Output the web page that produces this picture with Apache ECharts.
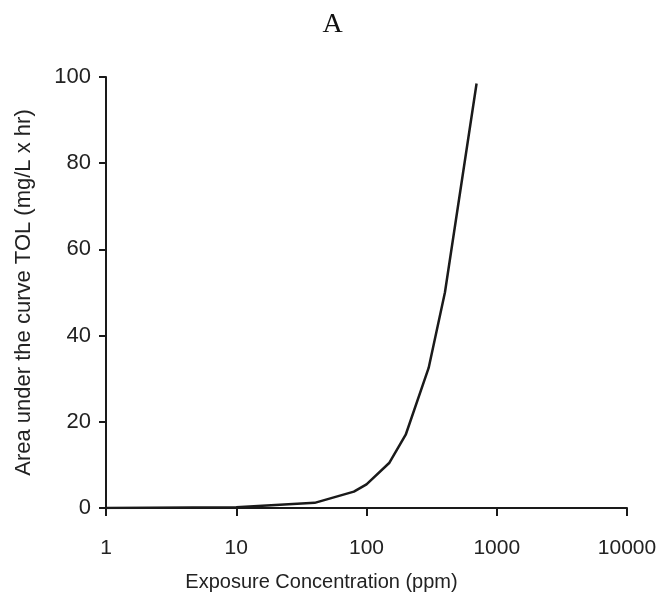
<!DOCTYPE html>
<html>
<head>
<meta charset="utf-8">
<script src="https://cdn.jsdelivr.net/npm/echarts@6/dist/echarts.min.js"></script>
<style>html,body{margin:0;padding:0;background:#fff;}#c{width:665px;height:610px;}</style>
</head>
<body>
<div id="c"></div>
<script>
const titleText = 'A';
const xName = 'Exposure Concentration (ppm)';
const yName = 'Area under the curve TOL (mg/L x hr)';
const concentration = [1, 10, 40, 80, 100, 150, 200, 300, 400, 700];
const auc = [0, 0.2, 1.2, 3.8, 5.5, 10.5, 17, 32.5, 50, 98.5];

const chart = echarts.init(document.getElementById('c'), null, {renderer: 'canvas'});
const axisCol = '#1a1a1a';
chart.setOption({
  animation: false,
  backgroundColor: '#ffffff',
  title: {
    text: titleText, left: 'center', top: 6,
    textStyle: {fontFamily: 'Liberation Serif', fontSize: 28, fontWeight: 'normal', color: '#111'}
  },
  grid: {left: 106, right: 38, top: 77, bottom: 102, containLabel: false},
  xAxis: {
    type: 'log', logBase: 10, min: 1, max: 10000,
    name: xName, nameLocation: 'middle', nameGap: 64,
    nameTextStyle: {fontFamily: 'Liberation Sans', fontSize: 20, color: '#222', padding: [0, 90, 0, 0]},
    axisLine: {lineStyle: {color: axisCol, width: 2}},
    axisTick: {show: true, inside: false, length: 8, lineStyle: {color: axisCol, width: 2}},
    minorTick: {show: false},
    splitLine: {show: false},
    axisLabel: {margin: 30, fontFamily: 'Liberation Sans', fontSize: 21, color: '#222',
      formatter: v => String(Math.round(v))}
  },
  yAxis: {
    type: 'value', min: 0, max: 100, interval: 20,
    name: yName, nameLocation: 'middle', nameGap: 71, nameRotate: 90,
    nameTextStyle: {fontFamily: 'Liberation Sans', fontSize: 22, color: '#222'},
    axisLine: {show: true, lineStyle: {color: axisCol, width: 2}},
    axisTick: {show: true, inside: false, length: 7, lineStyle: {color: axisCol, width: 2}},
    splitLine: {show: false},
    axisLabel: {margin: 15, fontFamily: 'Liberation Sans', fontSize: 22, color: '#222'}
  },
  series: [{
    type: 'line',
    data: concentration.map((c, i) => [c, auc[i]]),
    showSymbol: false, smooth: false,
    lineStyle: {color: '#1a1a1a', width: 2.5}
  }]
});
</script>
</body>
</html>
